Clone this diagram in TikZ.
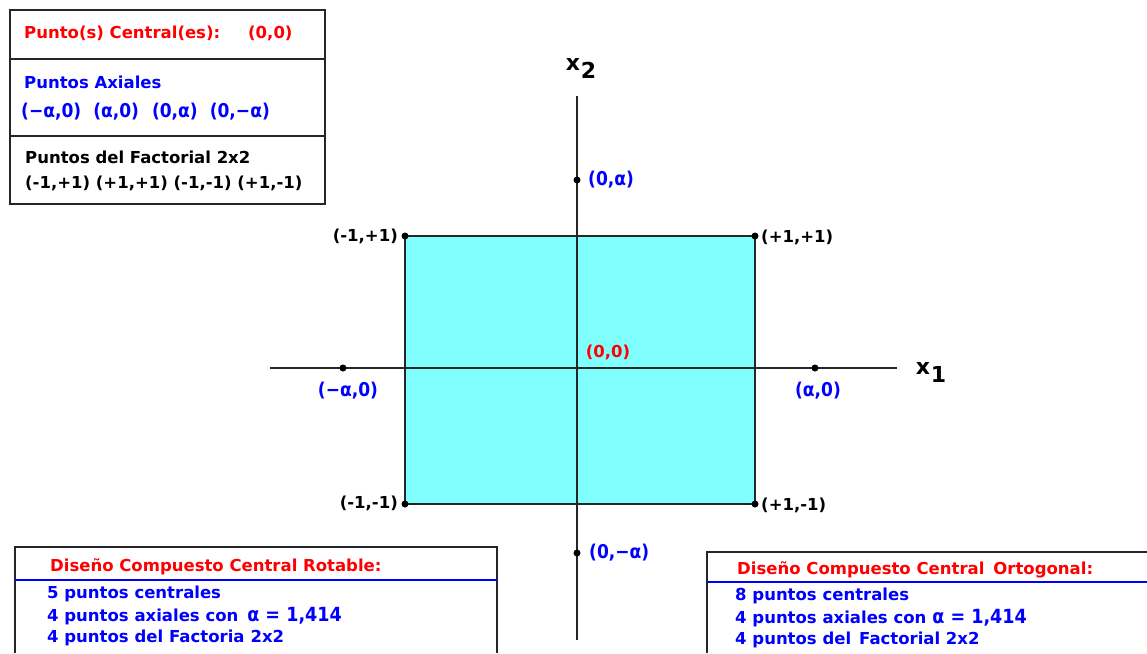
\documentclass[tikz,border=0pt]{standalone}
\usepackage{fontspec}
\setmainfont{DejaVu Sans}
\newfontfamily\condf{DejaVu Sans Condensed}
\definecolor{cyanfill}{RGB}{128,255,255}
\definecolor{tred}{RGB}{255,0,0}
\definecolor{tblue}{RGB}{0,0,255}
\begin{document}
\begin{tikzpicture}[x=1pt,y=-1pt,
  lbl/.style={inner sep=0pt,font=\bfseries\fontsize{16.5}{20}\selectfont},
  big/.style={inner sep=0pt,font=\condf\bfseries\fontsize{19}{22}\selectfont},
  pt/.style={circle,fill=black,inner sep=0pt,minimum size=7pt},
  axis/.style={draw=black!85,line width=1.2pt},
  frame/.style={draw=black!85,line width=1.2pt}]
\useasboundingbox (0,0) rectangle (1147,653);
% top-left legend box
\draw[frame] (10,10) rectangle (325,204);
\draw[frame] (10,59) -- (325,59);
\draw[frame] (10,136) -- (325,136);
\node[lbl,anchor=west,text=tred] (c1) at (24,33) {Punto(s) Central(es):\hspace{28pt}(0,0)};
\node[lbl,anchor=west,text=tblue] (a1) at (24,82) {Puntos Axiales};
\node[big,anchor=west,text=tblue] (a2) at (21,112) {(−α,0)\hspace{12pt}(α,0)\hspace{13pt}(0,α)\hspace{12pt}(0,−α)};
\node[lbl,anchor=west] (f1) at (25,157) {Puntos del Factorial 2x2};
\node[lbl,anchor=west] (f2) at (25,183) {(-1,+1) (+1,+1) (-1,-1) (+1,-1)};
% square
\draw[fill=cyanfill,draw=black!85,line width=1.2pt] (405,236) rectangle (755,504);
% axes
\coordinate (xl) at (270,368);
\coordinate (xr) at (897,368);
\coordinate (yt) at (577,96);
\coordinate (yb) at (577,640);
\draw[axis] (xl) -- (xr);
\draw[axis] (yt) -- (yb);
\node[inner sep=0pt,font=\bfseries\fontsize{22}{24}\selectfont] (x2) at (581,68) {x\raisebox{-8pt}{\hspace{1pt}2}};
\node[inner sep=0pt,font=\bfseries\fontsize{22}{24}\selectfont] (x1) at (931,372) {x\raisebox{-8pt}{\hspace{1pt}1}};
% axial points
\node[pt] (pma) at (343,368) {};
\node[pt] (ppa) at (815,368) {};
\node[pt] (p0a) at (577,180) {};
\node[pt] (p0ma) at (577,553) {};
\node[big,text=tblue] (lma) at (348,391) {(−α,0)};
\node[big,text=tblue] (lpa) at (818,391) {(α,0)};
\node[big,anchor=west,text=tblue] (l0a) at (588,180) {(0,α)};
\node[big,anchor=west,text=tblue] (l0ma) at (589,553) {(0,−α)};
% corners
\node[pt] (cmp) at (405,236) {};
\node[pt] (cpp) at (755,236) {};
\node[pt] (cmm) at (405,504) {};
\node[pt] (cpm) at (755,504) {};
\node[lbl,anchor=east] (lmp) at (398,236) {(-1,+1)};
\node[lbl,anchor=west] (lpp) at (761,237) {(+1,+1)};
\node[lbl,anchor=east] (lmm) at (398,503) {(-1,-1)};
\node[lbl,anchor=west] (lpm) at (761,505) {(+1,-1)};
\node[lbl,text=tred] (l00) at (608,352) {(0,0)};
% bottom-left box
\draw[frame] (15,653) -- (15,547) -- (497,547) -- (497,653);
\draw[tblue,line width=1.2pt] (15,580) -- (497,580);
\node[lbl,anchor=west,text=tred] (r0) at (50,567) {Diseño Compuesto Central Rotable:};
\node[lbl,anchor=west,text=tblue] (r1) at (47,594) {5 puntos centrales};
\node[lbl,anchor=west,text=tblue] (r2) at (47,616) {4 puntos axiales con\hspace{9pt}{\condf\fontsize{19.5}{22}\selectfont α = 1,414}};
\node[lbl,anchor=west,text=tblue] (r3) at (47,638) {4 puntos del\hspace{6pt}Factoria\hspace{6pt}2x2};
% bottom-right box
\draw[frame] (707,653) -- (707,552) -- (1147,552);
\draw[tblue,line width=1.2pt] (707,582) -- (1147,582);
\node[lbl,anchor=west,text=tred] (o0) at (737,570) {Diseño Compuesto Central\hspace{9pt}Ortogonal:};
\node[lbl,anchor=west,text=tblue] (o1) at (735,596) {8 puntos centrales};
\node[lbl,anchor=west,text=tblue] (o2) at (735,618) {4 puntos axiales con\hspace{6pt}{\condf\fontsize{19.5}{22}\selectfont α = 1,414}};
\node[lbl,anchor=west,text=tblue] (o3) at (735,640) {4 puntos del\hspace{8pt}Factorial 2x2};
\end{tikzpicture}
\end{document}
